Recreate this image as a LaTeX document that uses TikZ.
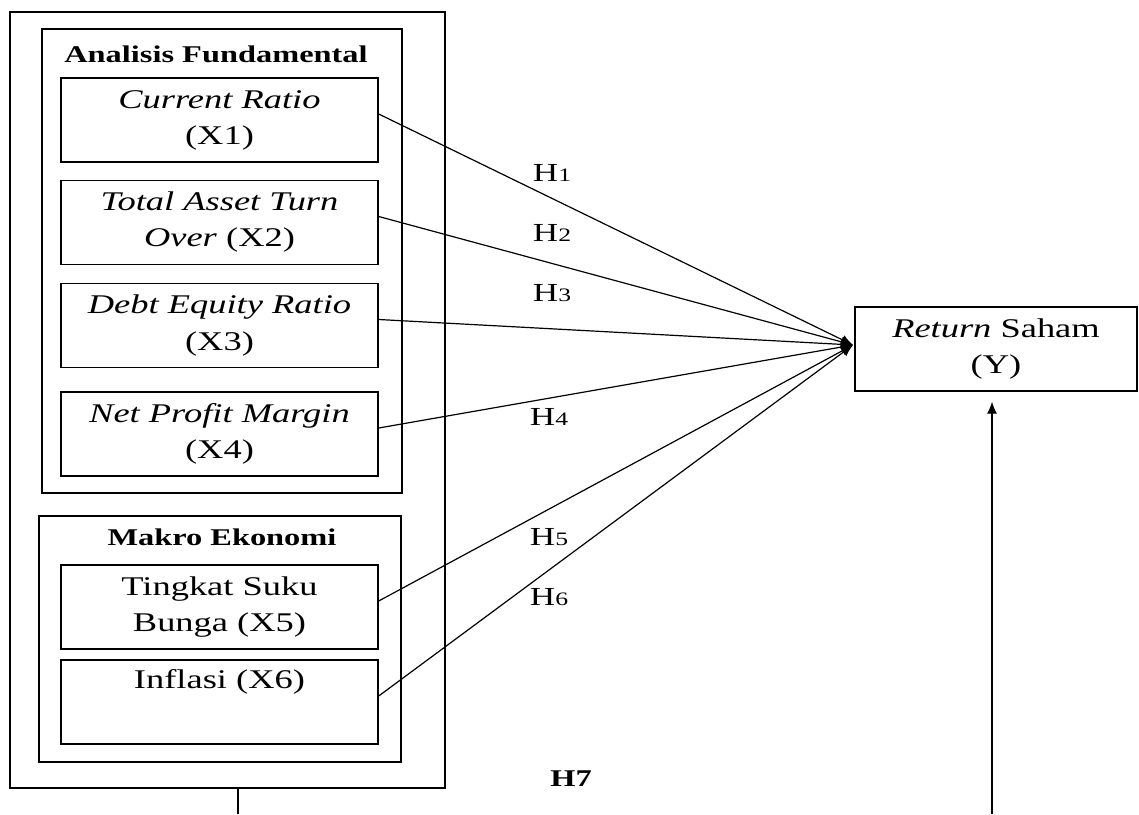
\documentclass[tikz,border=0pt]{standalone}
\usepackage{fontspec}
\setmainfont{Liberation Serif}[FakeStretch=1.35]
\usetikzlibrary{arrows.meta}
\newcommand\hnum[1]{{\fontsize{19}{19}\selectfont #1}}

\begin{document}
\begin{tikzpicture}[x=1pt,y=-1pt,
  grpbox/.style={draw,line width=1.4pt,inner sep=0},
  varbox/.style={draw,line width=1.4pt,minimum width=317,minimum height=84,inner sep=0,align=center,font=\fontsize{27}{36}\selectfont},
  hdr/.style={font=\fontsize{24}{24}\selectfont\bfseries,anchor=base},
  hlab/.style={font=\fontsize{26}{26}\selectfont},
  link/.style={line width=1.2pt,-{Latex[length=12pt,width=10pt]}}]
\useasboundingbox (0,0) rectangle (1139,814);
\node[grpbox,minimum width=435,minimum height=776] (outer) at (227.5,400) {};
\node[grpbox,minimum width=360,minimum height=464] (fund) at (222,261) {};
\node[grpbox,minimum width=362,minimum height=246] (makro) at (220,639) {};
\node[hdr] (hfund) at (216,62) {Analisis Fundamental};
\node[hdr] (hmakro) at (222,545) {Makro Ekonomi};
  \foreach \nm/\yy/\txt in {x1/120/{\textit{Current Ratio}\\(X1)},
      x2/222.5/{\textit{Total Asset Turn}\\\textit{Over} (X2)},
      x3/325.5/{\textit{Debt Equity Ratio}\\(X3)},
      x4/434/{\textit{Net Profit Margin}\\(X4)},
      x5/607/{Tingkat Suku\\Bunga (X5)},
      x6/702/{Inflasi (X6)\\\strut}}
  {  \node [varbox] (\nm) at (219.5,\yy) {\txt};}
\node[varbox,minimum width=282] (ret) at (996,349) {\textit{Return} Saham\\(Y)};
\coordinate (conv) at (853,345);
  \foreach \nm in {x1,x2,x3,x4,x5,x6}
  {  \draw[link] ([yshift=6pt]\nm.east) -- (conv);}
\node[hlab] (h1) at (552,173) {H\hnum{1}};
\node[hlab] (h2) at (552,233) {H\hnum{2}};
\node[hlab] (h3) at (552,293) {H\hnum{3}};
\node[hlab] (h4) at (549,417) {H\hnum{4}};
\node[hlab] (h5) at (549,537) {H\hnum{5}};
\node[hlab] (h6) at (549,597) {H\hnum{6}};
\node[hlab,font=\fontsize{24}{24}\selectfont\bfseries] (h7) at (571,779) {H7};
\coordinate (gbot) at (238,814);
\draw[line width=1.4pt] (gbot |- outer.south) -- (gbot);
\coordinate (ybot) at (992,814);
\draw[link,shorten >=10pt] (ybot) -- (ybot |- ret.south);
\end{tikzpicture}
\end{document}
